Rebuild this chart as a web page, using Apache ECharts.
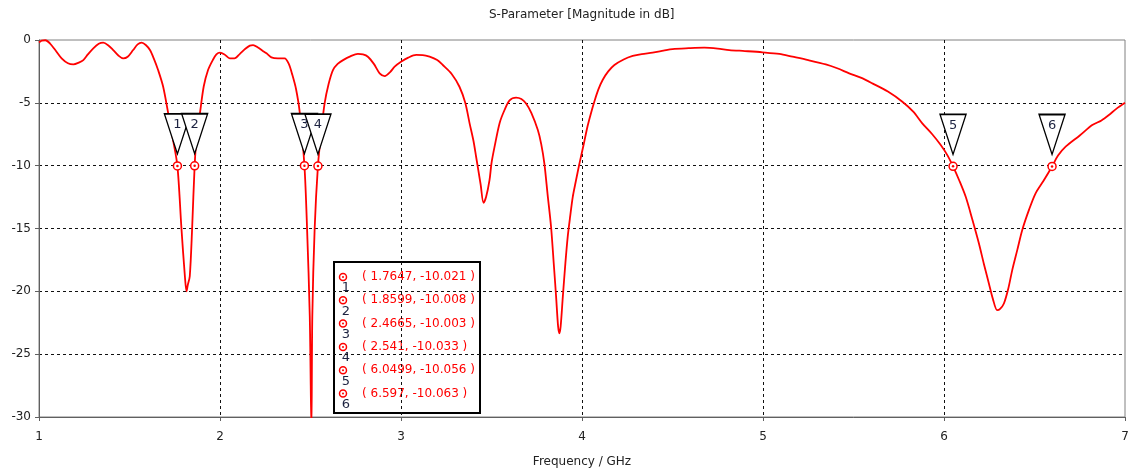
<!DOCTYPE html>
<html><head><meta charset="utf-8">
<script src="https://cdn.jsdelivr.net/npm/echarts@6/dist/echarts.min.js"></script>
<style>html,body{margin:0;padding:0;background:#fff}#c{width:1128px;height:472px}</style>
</head><body><div id="c"></div>
<script>
const chartTitle = 'S-Parameter [Magnitude in dB]';
const xAxisTitle = 'Frequency / GHz';
const freqGHz = [
1.000,1.015,1.035,1.06,1.09,1.125,1.16,1.19,1.22,1.245,1.27,1.30,1.33,1.355,1.385,1.41,1.44,1.465,1.49,1.52,1.545,1.567,1.59,1.613,1.635,1.658,1.686,1.714,1.74,
1.7647,1.787,1.806,1.815,1.822,1.833,1.846,1.8599,1.872,1.889,1.91,1.934,1.96,1.98,2.0,2.025,2.054,2.08,2.11,2.14,2.165,2.183,2.21,2.235,2.257,2.284,2.32,2.357,2.38,2.40,2.42,2.44,
2.4665,2.481,2.496,2.505,2.510,2.523,2.541,2.56,2.578,2.60,2.624,2.65,2.68,2.72,2.762,2.79,2.817,2.85,2.882,2.91,2.94,2.965,3.0,3.04,3.084,3.12,3.158,3.2,3.231,3.28,3.323,3.355,3.379,3.40,3.415,3.44,3.456,3.47,3.489,3.50,3.517,3.545,3.572,3.60,3.636,3.665,3.69,3.72,3.756,3.775,3.792,3.81,3.829,3.845,3.857,3.868,3.875,3.882,3.894,3.908,3.921,3.935,3.949,3.965,3.986,4.008,4.03,4.05,4.068,4.09,4.114,4.145,4.179,4.23,4.28,4.33,4.39,4.45,4.5,4.59,4.676,4.75,4.814,4.9,4.997,5.09,5.163,5.25,5.347,5.41,5.476,5.54,5.604,5.69,5.77,5.83,5.88,5.935,5.982,6.02,
6.0499,6.085,6.12,6.155,6.193,6.22,6.248,6.27,6.294,6.31,6.331,6.355,6.377,6.405,6.432,6.47,6.506,6.55,6.597,6.63,6.672,6.75,6.819,6.87,6.911,6.95,7.0
];
const s11dB = [
-0.20,-0.05,-0.02,-0.26,-0.8,-1.46,-1.85,-1.94,-1.8,-1.6,-1.15,-0.66,-0.3,-0.21,-0.45,-0.8,-1.25,-1.46,-1.33,-0.8,-0.35,-0.21,-0.4,-0.8,-1.5,-2.39,-3.72,-5.84,-7.9,
-10.021,-15,-18.8,-20.0,-19.5,-18.8,-15,-10.008,-7.5,-5.84,-3.7,-2.39,-1.6,-1.15,-1.01,-1.15,-1.46,-1.46,-1.1,-0.7,-0.45,-0.40,-0.6,-0.85,-1.06,-1.38,-1.46,-1.46,-1.9,-2.79,-3.9,-5.7,
-10.003,-15,-22,-31,-22,-15,-10.033,-7.2,-5.04,-3.5,-2.39,-1.9,-1.6,-1.3,-1.11,-1.15,-1.33,-1.9,-2.65,-2.87,-2.55,-2.12,-1.73,-1.4,-1.19,-1.2,-1.33,-1.6,-1.99,-2.7,-3.72,-5.0,-6.63,-8.0,-9.29,-11.5,-12.95,-12.5,-11.15,-9.8,-8.49,-6.6,-5.57,-4.8,-4.59,-4.7,-5.04,-5.8,-7.17,-8.3,-9.82,-12.3,-14.86,-18.0,-20.44,-22.8,-23.35,-22.8,-20.44,-17.8,-15.66,-14.0,-12.48,-11.3,-9.82,-8.4,-6.9,-5.8,-4.91,-3.95,-3.18,-2.5,-1.99,-1.55,-1.27,-1.12,-1.01,-0.85,-0.72,-0.65,-0.61,-0.68,-0.8,-0.88,-0.98,-1.11,-1.33,-1.6,-1.94,-2.25,-2.65,-3.0,-3.45,-4.1,-4.91,-5.7,-6.63,-7.5,-8.36,-9.2,
-10.056,-11.2,-12.48,-14.2,-16.19,-17.8,-19.37,-20.6,-21.5,-21.4,-20.97,-19.8,-18.31,-16.7,-15.13,-13.5,-12.2,-11.2,-10.063,-9.2,-8.49,-7.6,-6.77,-6.4,-5.97,-5.5,-5.0
];
const markerIds = ['1','2','3','4','5','6'];
const markerFreq = [1.7647, 1.8599, 2.4665, 2.541, 6.0499, 6.597];
const markerDB = [-10.021, -10.008, -10.003, -10.033, -10.056, -10.063];

const FONT = 'DejaVu Sans';
const RED = '#ff0000';
const NAVY = '#1c2240';

const lineData = freqGHz.map((f, i) => [f, s11dB[i]]);
const markerData = markerFreq.map((f, i) => [f, markerDB[i]]);

const rowH = 23.3;
const legendChildren = [{
  type: 'rect', shape: {x: 0, y: 0, width: 146, height: 151},
  style: {fill: '#fff', stroke: '#000', lineWidth: 2}
}];
markerIds.forEach((id, i) => {
  const cy = 15 + i * rowH;
  legendChildren.push({type: 'circle', shape: {cx: 9, cy: cy, r: 3.5}, style: {fill: '#fff', stroke: RED, lineWidth: 1.5}});
  legendChildren.push({type: 'circle', shape: {cx: 9, cy: cy, r: 1}, style: {fill: RED}});
  legendChildren.push({type: 'text', x: 12, y: cy + 11, style: {text: id, fill: NAVY, font: '13px "' + FONT + '"', align: 'center', verticalAlign: 'middle'}});
  legendChildren.push({type: 'text', x: 28, y: cy, style: {text: '( ' + markerFreq[i] + ', ' + markerDB[i] + ' )', fill: RED, font: '12px "' + FONT + '"', align: 'left', verticalAlign: 'middle'}});
});

const chart = echarts.init(document.getElementById('c'), null, {renderer: 'canvas'});
chart.setOption({
  animation: false,
  backgroundColor: '#fff',
  title: {
    text: chartTitle, left: 489, top: 9, padding: 0,
    textStyle: {fontSize: 12, fontWeight: 'normal', color: '#222', fontFamily: FONT}
  },
  grid: {left: 39, right: 3, top: 40, bottom: 55, show: true, borderColor: '#808080', borderWidth: 1, backgroundColor: 'transparent', containLabel: false, outerBoundsMode: 'none'},
  xAxis: {
    type: 'value', min: 1, max: 7, interval: 1,
    name: xAxisTitle, nameLocation: 'middle', nameGap: 39,
    nameTextStyle: {fontSize: 12, color: '#222', fontFamily: FONT},
    axisLine: {show: true, onZero: false, lineStyle: {color: '#606060', width: 1}},
    axisTick: {show: true, length: 4, lineStyle: {color: '#606060'}},
    axisLabel: {color: '#222', fontSize: 12, fontFamily: FONT, margin: 14},
    splitLine: {show: true, showMinLine: false, showMaxLine: false, lineStyle: {color: '#111', type: [3, 3], width: 1}}
  },
  yAxis: {
    type: 'value', min: -30, max: 0, interval: 5,
    axisLine: {show: true, onZero: false, lineStyle: {color: '#606060', width: 1}},
    axisTick: {show: true, length: 4, lineStyle: {color: '#606060'}},
    axisLabel: {color: '#222', fontSize: 12, fontFamily: FONT, margin: 8},
    splitLine: {show: true, showMinLine: false, showMaxLine: false, lineStyle: {color: '#111', type: [3, 3], width: 1}}
  },
  series: [
    {
      type: 'line', data: lineData, showSymbol: false, smooth: 0.3, clip: true, silent: true,
      lineStyle: {color: RED, width: 1.8}, z: 2
    },
    {
      type: 'scatter', data: markerData, silent: true, clip: false, z: 3,
      symbol: 'path://M0,0L26,0L13,40Z', symbolSize: [26, 40], symbolOffset: [0, -32],
      itemStyle: {color: '#fff', borderColor: '#000', borderWidth: 1.5, opacity: 1},
      label: {show: true, position: 'inside', offset: [0, -9], formatter: p => markerIds[p.dataIndex], color: NAVY, fontSize: 13, fontFamily: FONT}
    },
    {
      type: 'scatter', data: markerData, silent: true, clip: false, z: 4,
      symbol: 'circle', symbolSize: 8,
      itemStyle: {color: '#fff', borderColor: RED, borderWidth: 1.5, opacity: 1}
    },
    {
      type: 'scatter', data: markerData, silent: true, clip: false, z: 5,
      symbol: 'circle', symbolSize: 2.5,
      itemStyle: {color: RED, opacity: 1}
    }
  ],
  graphic: [{type: 'group', left: 333, top: 261, z: 100, children: legendChildren}]
});
</script>
</body></html>
